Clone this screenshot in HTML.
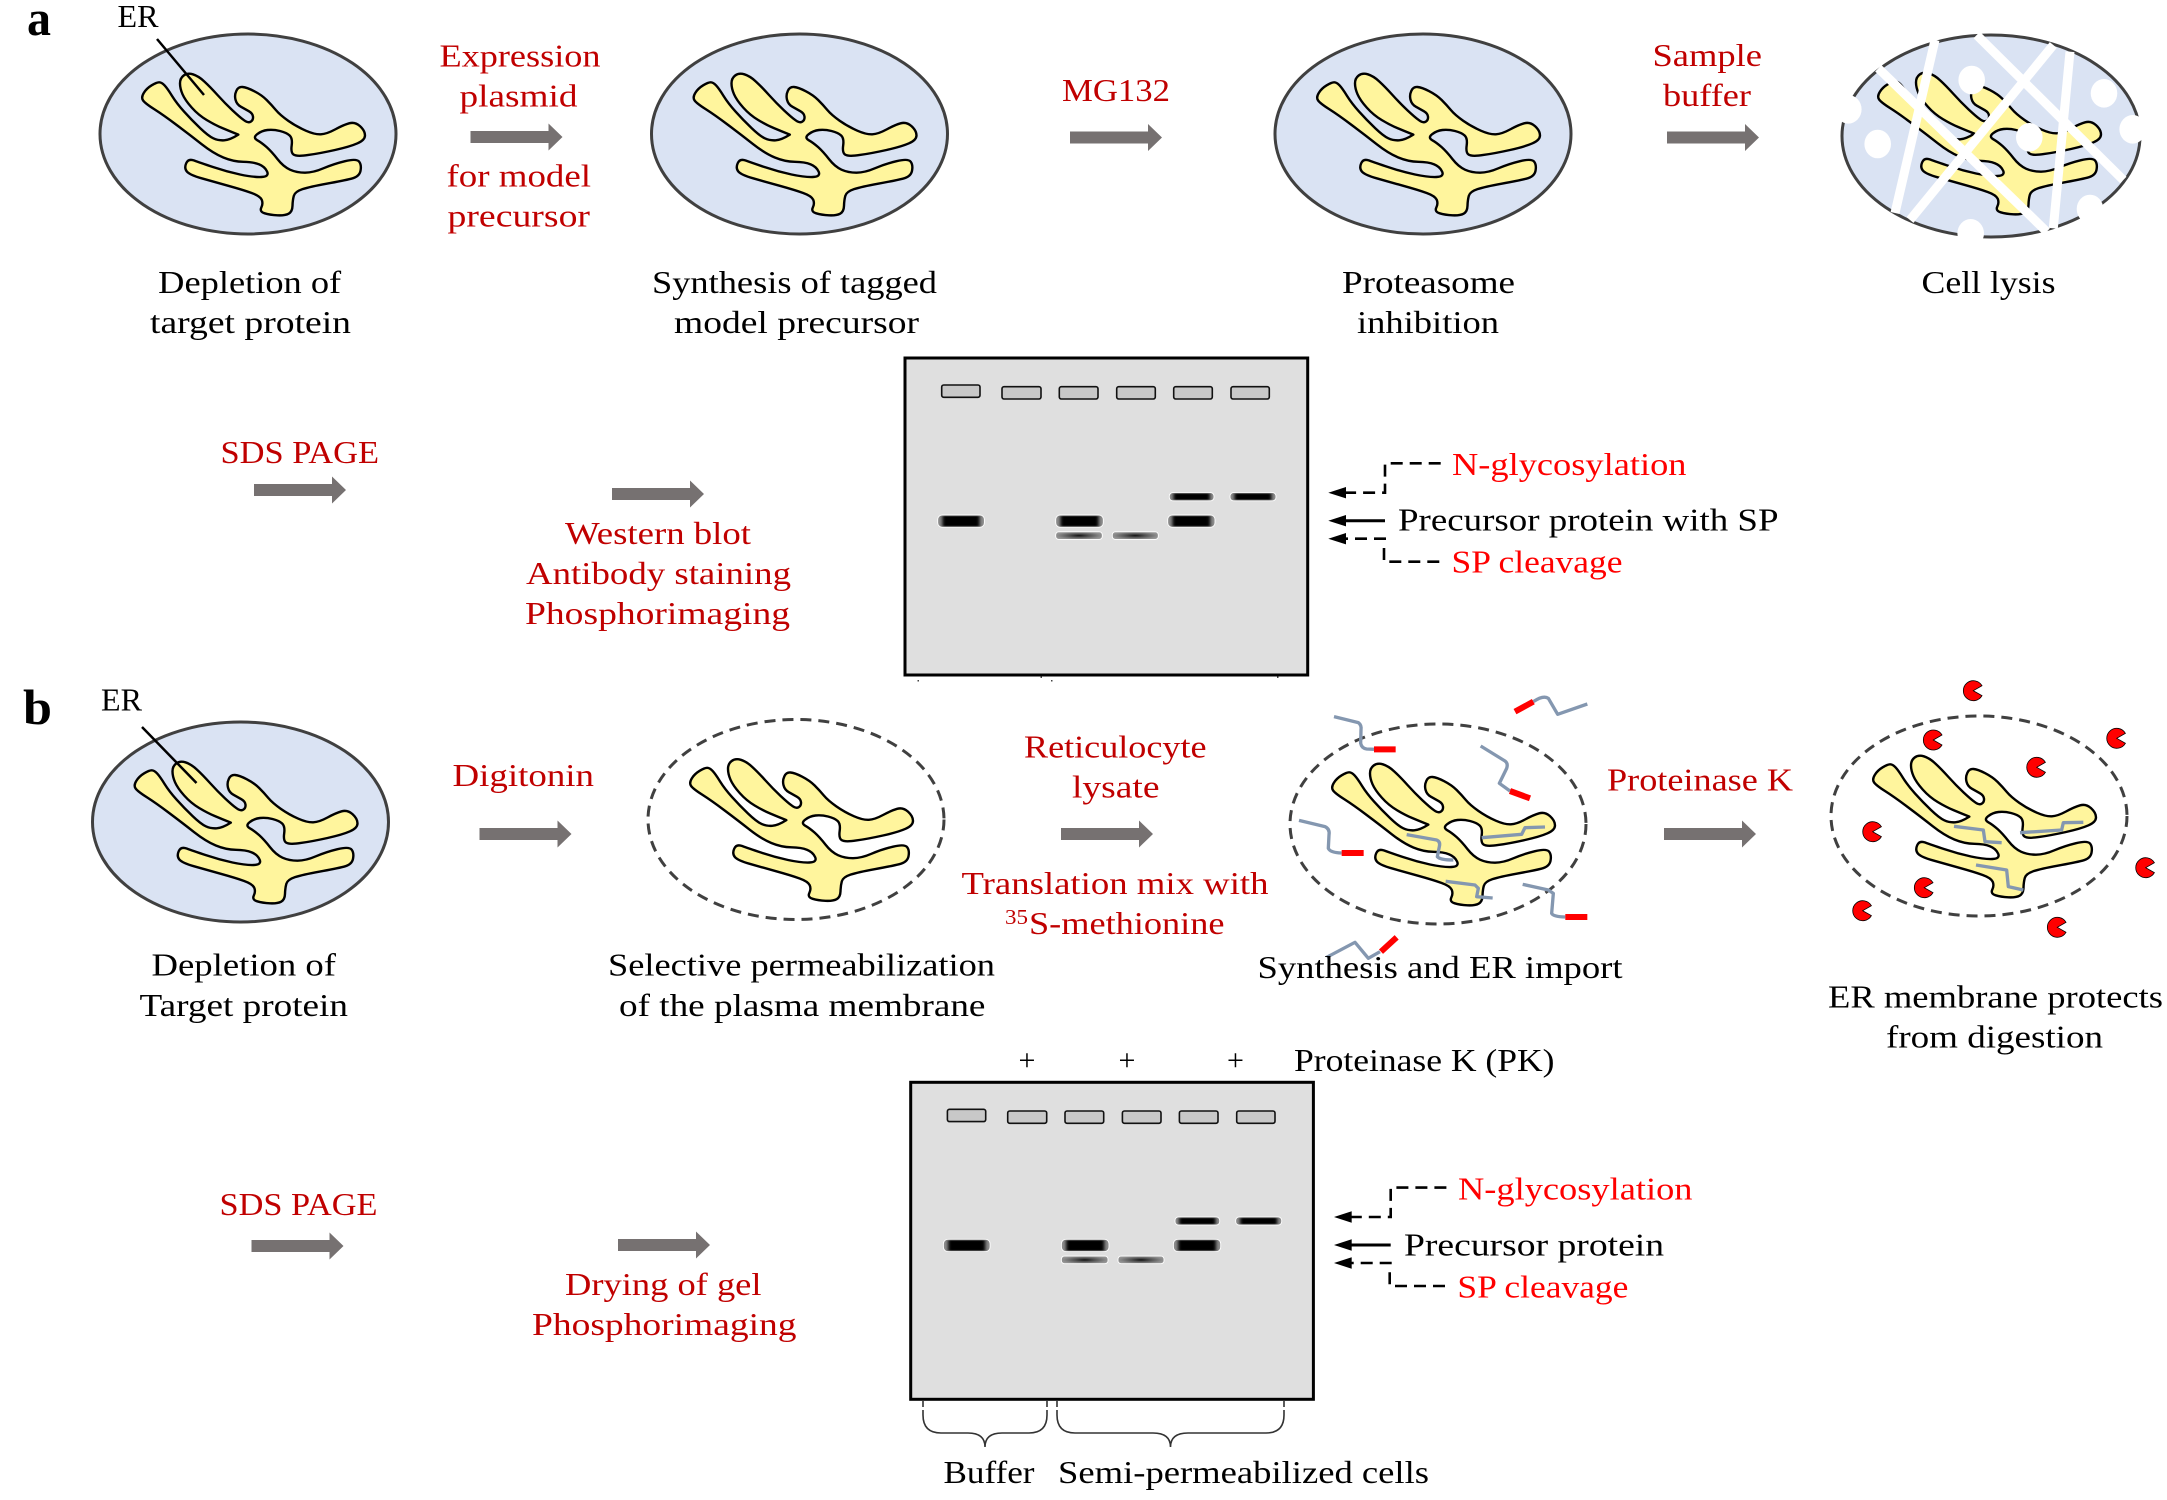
<!DOCTYPE html>
<html>
<head>
<meta charset="utf-8">
<style>
html,body{margin:0;padding:0;background:#fff}
svg{display:block}
text{font-family:"Liberation Serif",serif;font-size:32px;fill:#000}
.r{fill:#c00000}
.b{fill:#ff0000}
.h{font-weight:bold;font-size:50px}
</style>
</head>
<body>
<svg width="2167" height="1500" viewBox="0 0 2167 1500" xmlns="http://www.w3.org/2000/svg">
<defs>
<g id="er" transform="translate(130 60) scale(.33333)">
<path vector-effect="non-scaling-stroke" fill="#fff59d" stroke="#000" stroke-width="2.400" stroke-linejoin="round" d="M87.500 67Q95 67 103.500 76Q112 85 126 107.500Q140 130 162.500 155Q185 180 210 204Q235 228 250 235Q265 242 282.500 241Q300 240 325 224Q300 214 277.500 204.500Q255 195 230 180Q205 165 185 142.500Q165 120 157.500 102.500Q150 85 150 70Q150 55 161 46.500Q172 38 188.500 43Q205 48 222.500 64Q240 80 262.500 105Q285 130 307.500 151Q330 172 342.500 181Q355 190 362.500 185Q370 180 369 170Q368 160 356.500 153.500Q345 147 332.500 140Q320 133 316.500 119Q313 105 319 92.500Q325 80 337.500 81Q350 82 372.500 93.500Q395 105 410 120Q425 135 437.500 150Q450 165 475 182.500Q500 200 527.500 212Q555 224 572.500 223Q590 222 615 208.500Q640 195 657.500 190Q675 185 690 198.500Q705 212 705 226Q705 240 682.500 250Q660 260 615 270Q570 280 535 285Q500 290 491 284Q482 278 485 256.500Q488 235 479 226.500Q470 218 450 213Q430 208 412.500 210Q395 212 381.500 222.500Q368 233 381.500 240.500Q395 248 410 261.500Q425 275 442.500 297.500Q460 320 480 329Q500 338 525 338Q550 338 580 325Q610 312 645 303.500Q680 295 687.500 305Q695 315 691.500 332.500Q688 350 664 356Q640 362 590 371Q540 380 517.500 387.500Q495 395 491.500 407.500Q488 420 487.500 437.500Q487 455 476 461Q465 467 442.500 466Q420 465 404 460Q388 455 394 442.500Q400 430 395 419Q390 408 365 399Q340 390 295 377.500Q250 365 215 355Q180 345 171 335Q162 325 168.500 310Q175 295 192.500 301.500Q210 308 250 321.500Q290 335 330 343.500Q370 352 394 351Q418 350 411.500 335Q405 320 387.500 313Q370 306 340 305.500Q310 305 280 292.500Q250 280 215 252.500Q180 225 140 195Q100 165 72.500 147.500Q45 130 39 121Q33 112 41.500 98.500Q50 85 65 76Q80 67 87.500 67Z"/>
</g>
<path id="arr" fill="#767171" d="M0-6H78V-13.500L92 0L78 13.500V6H0Z"/>
<path id="pac" fill="#ff0000" stroke="#000" stroke-width="0.800" d="M0 0L8.700-5A10 10 0 1 0 8.700 5Z"/>
<filter id="bl" x="-20%" y="-60%" width="140%" height="220%"><feGaussianBlur stdDeviation="1.500 0.600"/></filter>
<radialGradient id="gr" cx=".5" cy=".5" r=".7">
<stop offset="0" stop-color="#111"/><stop offset=".3" stop-color="#505050"/><stop offset=".65" stop-color="#8a8a8a"/><stop offset="1" stop-color="#a8a8a8"/>
</radialGradient>
<g id="gel">
<rect x="905" y="358" width="402.700" height="317" fill="#dfdfdf" stroke="#000" stroke-width="3"/>
<g fill="#c8c8c8" stroke="#111" stroke-width="1.600">
<rect x="941.700" y="385" width="38.300" height="12.300" rx="2"/>
<rect x="1002" y="386.700" width="39" height="12.300" rx="2"/>
<rect x="1059.300" y="386.700" width="38.700" height="12.300" rx="2"/>
<rect x="1116.700" y="386.700" width="38.600" height="12.300" rx="2"/>
<rect x="1173.700" y="386.700" width="38.600" height="12.300" rx="2"/>
<rect x="1231" y="386.700" width="38.300" height="12.300" rx="2"/>
</g>
<g fill="#8c8c8c" stroke="#fff" stroke-width="0.900">
<rect x="937.700" y="515" width="46.700" height="12.300" rx="4.500"/>
<rect x="1055.700" y="515" width="47.600" height="12.300" rx="4.500"/>
<rect x="1167.700" y="515" width="47.300" height="12.300" rx="4.500"/>
<rect x="1169.300" y="492.600" width="44.700" height="8.200" rx="3.500"/>
<rect x="1230" y="492.600" width="46" height="8.200" rx="3.500"/>
</g>
<g fill="#000" filter="url(#bl)">
<rect x="942.500" y="516" width="37" height="10.300"/>
<rect x="1060.500" y="516" width="38" height="10.300"/>
<rect x="1172.500" y="516" width="37.700" height="10.300"/>
<rect x="1173.500" y="493.600" width="36.300" height="6.200"/>
<rect x="1234.500" y="493.600" width="37" height="6.200"/>
</g>
<g fill="url(#gr)" stroke="#fff" stroke-width="0.900">
<rect x="1055.700" y="531.800" width="46.600" height="7.600" rx="3"/>
<rect x="1112.300" y="531.800" width="46" height="7.600" rx="3"/>
</g>
</g>
<g id="cell">
<ellipse cx="248" cy="134" rx="148" ry="100" fill="#dae3f3" stroke="#404040" stroke-width="3"/>
<use href="#er"/>
</g>
<g id="dcell">
<ellipse cx="248" cy="134" rx="148" ry="100" fill="none" stroke="#404040" stroke-width="3" stroke-dasharray="11 7"/>
<use href="#er"/>
</g>
</defs>

<!-- Panel a cells -->
<use href="#cell"/>
<line x1="157" y1="39" x2="204" y2="95" stroke="#000" stroke-width="2.500"/>
<use href="#cell" x="551.500"/>
<use href="#cell" x="1175"/>
<ellipse cx="1991" cy="136" rx="149" ry="101" fill="#dae3f3" stroke="#404040" stroke-width="3"/>
<use href="#er" x="1736" y="-1"/>
<g stroke="#fff" stroke-width="9" fill="none">
<line x1="1935" y1="40" x2="1895" y2="213"/>
<line x1="1878.300" y1="68.300" x2="2046.700" y2="231.700"/>
<line x1="1976.700" y1="35" x2="2123.300" y2="180"/>
<line x1="2053.300" y1="45" x2="1910" y2="220"/>
<line x1="2070" y1="51.700" x2="2053.300" y2="228.300"/>
</g>
<g fill="#fff">
<ellipse cx="1971.700" cy="80" rx="13.300" ry="14.300"/>
<ellipse cx="2104" cy="93.300" rx="13.300" ry="14.300"/>
<ellipse cx="1877.700" cy="144" rx="13.300" ry="14.300"/>
<ellipse cx="2029.300" cy="137.300" rx="13.300" ry="14.300"/>
<ellipse cx="1848.300" cy="109.300" rx="13.300" ry="14.300"/>
<ellipse cx="2132.700" cy="129.300" rx="13.300" ry="14.300"/>
<ellipse cx="1970.700" cy="233.300" rx="13.300" ry="14.300"/>
<ellipse cx="2090" cy="209" rx="13.300" ry="14.300"/>
</g>

<!-- Panel b cells -->
<g transform="translate(-7.500 688)">
<use href="#cell"/>
<line x1="149.500" y1="39" x2="204" y2="95" stroke="#000" stroke-width="2.500"/>
</g>
<use href="#dcell" x="548" y="685.500"/>
<use href="#dcell" x="1190" y="690"/>
<use href="#dcell" x="1731" y="682"/>

<!-- peptides b3 -->
<g transform="translate(1260 680) scale(.33333)" fill="none" stroke-linejoin="round">
<g stroke="#8497b0" stroke-width="10">
<path d="M222 110L295 128Q305 135 303 150L302 190Q305 205 320 207L342 208"/>
<path d="M820 65Q850 45 865 55L893 103L982 72"/>
<path d="M662 198L735 243Q745 250 740 265L718 310L750 333"/>
<path d="M117 421L195 440Q210 447 207 465L205 505Q210 518 245 519"/>
<path d="M440 464L530 480Q542 485 538 500L532 530Q540 540 580 540"/>
<path d="M665 473L785 463L795 443L855 441"/>
<path d="M557 604L645 615L655 625L650 650L698 654"/>
<path d="M788 613L865 630L880 640L875 700Q880 710 916 711"/>
<path d="M200 832L285 787L325 835L360 815"/>
</g>
<g stroke="#ff0000" stroke-width="18">
<path d="M342 208H407"/>
<path d="M765 95L820 65"/>
<path d="M750 333L810 355"/>
<path d="M245 519H311"/>
<path d="M916 711H982"/>
<path d="M363 815L410 772"/>
</g>
</g>
<!-- peptides b4 -->
<g transform="translate(1800 660) scale(.33333)" fill="none" stroke="#8497b0" stroke-width="10" stroke-linejoin="round">
<path d="M462 499L550 510L555 545L605 548"/>
<path d="M660 518L785 510L790 488L850 487"/>
<path d="M528 615L620 630L625 680L670 690"/>
</g>
<use href="#pac" x="1973.300" y="690.700"/>
<use href="#pac" x="1933.300" y="740"/>
<use href="#pac" x="2116.700" y="738.300"/>
<use href="#pac" x="2036.700" y="767.300"/>
<use href="#pac" x="1872.700" y="831.700"/>
<use href="#pac" x="2145.700" y="867.700"/>
<use href="#pac" x="1924.300" y="887.700"/>
<use href="#pac" x="1862.700" y="910.700"/>
<use href="#pac" x="2057.300" y="927.300"/>

<!-- block arrows -->
<use href="#arr" x="470.500" y="137"/>
<use href="#arr" x="1070" y="137.500"/>
<use href="#arr" x="1667" y="137.500"/>
<use href="#arr" x="254" y="490"/>
<use href="#arr" x="612" y="494"/>
<use href="#arr" x="479.500" y="834"/>
<use href="#arr" x="1061" y="834"/>
<use href="#arr" x="1664" y="834"/>
<use href="#arr" x="251.500" y="1246"/>
<use href="#arr" x="618" y="1245"/>

<!-- gels -->
<use href="#gel"/>
<use href="#gel" x="5.700" y="724.300"/>
<g fill="#444">
<rect x="917.500" y="680" width="1.500" height="1.500"/>
<rect x="1040.500" y="676.500" width="1.500" height="1.500"/>
<rect x="1051" y="680" width="1.500" height="1.500"/>
<rect x="1277" y="676.500" width="1.500" height="1.500"/>
</g>

<!-- gel side arrows a -->
<g id="side">
<g fill="none" stroke="#000" stroke-width="2.600">
<path d="M1440.700 463.300H1385V492.700H1345" stroke-dasharray="12 7"/>
<path d="M1385 520.700H1345" stroke-width="3"/>
<path d="M1386 538.700H1345" stroke-dasharray="12 7"/>
<path d="M1384 548V561.700H1440.700" stroke-dasharray="12 7"/>
</g>
<path d="M1328.300 492.700L1346 487V498.400Z"/>
<path d="M1328.300 520.700L1346 515V526.400Z"/>
<path d="M1328.300 538.700L1346 533V544.400Z"/>
</g>
<use href="#side" x="5.700" y="724.300"/>

<!-- braces -->
<g fill="none" stroke="#333" stroke-width="1.600">
<path d="M923 1401V1407M923 1410V1415Q923 1433 941 1433H968Q985 1433 985 1447Q985 1433 1002 1433H1029Q1047 1433 1047 1415V1410M1047 1407V1401"/>
<path d="M1057 1401V1407M1057 1410V1415Q1057 1433 1075 1433H1153Q1170.500 1433 1170.500 1447Q1170.500 1433 1188 1433H1266Q1284 1433 1284 1415V1410M1284 1407V1401"/>
</g>

<!-- text a -->
<text class="h" x="27" y="35" textLength="24" lengthAdjust="spacingAndGlyphs">a</text>
<text x="117.500" y="27" textLength="41" lengthAdjust="spacingAndGlyphs">ER</text>
<text class="r" x="439.500" y="66.700" textLength="161" lengthAdjust="spacingAndGlyphs">Expression</text>
<text class="r" x="459.500" y="106.700" textLength="118" lengthAdjust="spacingAndGlyphs">plasmid</text>
<text class="r" x="446.500" y="186.700" textLength="144.500" lengthAdjust="spacingAndGlyphs">for model</text>
<text class="r" x="447.500" y="226.700" textLength="142.500" lengthAdjust="spacingAndGlyphs">precursor</text>
<text x="158.200" y="293" textLength="183" lengthAdjust="spacingAndGlyphs">Depletion of</text>
<text x="150" y="333" textLength="201" lengthAdjust="spacingAndGlyphs">target protein</text>
<text x="652" y="293" textLength="285" lengthAdjust="spacingAndGlyphs">Synthesis of tagged</text>
<text x="674" y="333" textLength="245" lengthAdjust="spacingAndGlyphs">model precursor</text>
<text x="1342" y="293" textLength="173" lengthAdjust="spacingAndGlyphs">Proteasome</text>
<text x="1357" y="333" textLength="142" lengthAdjust="spacingAndGlyphs">inhibition</text>
<text x="1921.500" y="293" textLength="134" lengthAdjust="spacingAndGlyphs">Cell lysis</text>
<text class="r" x="1062" y="101" textLength="108" lengthAdjust="spacingAndGlyphs">MG132</text>
<text class="r" x="1652.500" y="66" textLength="109.500" lengthAdjust="spacingAndGlyphs">Sample</text>
<text class="r" x="1663" y="106" textLength="88" lengthAdjust="spacingAndGlyphs">buffer</text>
<text class="r" x="220.500" y="463" textLength="158.500" lengthAdjust="spacingAndGlyphs">SDS PAGE</text>
<text class="r" x="565" y="544" textLength="186" lengthAdjust="spacingAndGlyphs">Western blot</text>
<text class="r" x="526" y="584" textLength="265" lengthAdjust="spacingAndGlyphs">Antibody staining</text>
<text class="r" x="525" y="624" textLength="265" lengthAdjust="spacingAndGlyphs">Phosphorimaging</text>
<text class="b" x="1452" y="475" textLength="234.500" lengthAdjust="spacingAndGlyphs">N-glycosylation</text>
<text x="1398" y="530.700" textLength="380.500" lengthAdjust="spacingAndGlyphs">Precursor protein with SP</text>
<text class="b" x="1451.500" y="572.700" textLength="171" lengthAdjust="spacingAndGlyphs">SP cleavage</text>

<!-- text b -->
<text class="h" x="23" y="724" textLength="29" lengthAdjust="spacingAndGlyphs">b</text>
<text x="101" y="710.700" textLength="41" lengthAdjust="spacingAndGlyphs">ER</text>
<text x="151.500" y="975.700" textLength="184.500" lengthAdjust="spacingAndGlyphs">Depletion of</text>
<text x="139.500" y="1016" textLength="208.500" lengthAdjust="spacingAndGlyphs">Target protein</text>
<text class="r" x="452.500" y="786" textLength="141.500" lengthAdjust="spacingAndGlyphs">Digitonin</text>
<text class="r" x="1024" y="757.500" textLength="182.500" lengthAdjust="spacingAndGlyphs">Reticulocyte</text>
<text class="r" x="1072" y="797.500" textLength="87.500" lengthAdjust="spacingAndGlyphs">lysate</text>
<text class="r" x="961.500" y="894" textLength="307" lengthAdjust="spacingAndGlyphs">Translation mix with</text>
<text class="r" x="1005" y="924" style="font-size:21px" textLength="23" lengthAdjust="spacingAndGlyphs">35</text>
<text class="r" x="1029" y="934" textLength="195.500" lengthAdjust="spacingAndGlyphs">S-methionine</text>
<text x="608" y="975.700" textLength="387" lengthAdjust="spacingAndGlyphs">Selective permeabilization</text>
<text x="619" y="1016" textLength="366.400" lengthAdjust="spacingAndGlyphs">of the plasma membrane</text>
<text x="1257.500" y="978" textLength="365" lengthAdjust="spacingAndGlyphs">Synthesis and ER import</text>
<text class="r" x="1607" y="790.500" textLength="186" lengthAdjust="spacingAndGlyphs">Proteinase K</text>
<text x="1828" y="1007.500" textLength="335" lengthAdjust="spacingAndGlyphs">ER membrane protects</text>
<text x="1886" y="1047.500" textLength="217" lengthAdjust="spacingAndGlyphs">from digestion</text>
<text x="1027" y="1070" text-anchor="middle" style="font-size:30px">+</text>
<text x="1127" y="1070" text-anchor="middle" style="font-size:30px">+</text>
<text x="1235.500" y="1070" text-anchor="middle" style="font-size:30px">+</text>
<text x="1294" y="1071" textLength="260.500" lengthAdjust="spacingAndGlyphs">Proteinase K (PK)</text>
<text class="r" x="219.500" y="1215" textLength="158" lengthAdjust="spacingAndGlyphs">SDS PAGE</text>
<text class="r" x="565" y="1295" textLength="196.500" lengthAdjust="spacingAndGlyphs">Drying of gel</text>
<text class="r" x="532" y="1335" textLength="264.500" lengthAdjust="spacingAndGlyphs">Phosphorimaging</text>
<text class="b" x="1458" y="1199.300" textLength="234.500" lengthAdjust="spacingAndGlyphs">N-glycosylation</text>
<text x="1404" y="1255.500" textLength="260" lengthAdjust="spacingAndGlyphs">Precursor protein</text>
<text class="b" x="1457.400" y="1297.500" textLength="171" lengthAdjust="spacingAndGlyphs">SP cleavage</text>
<text x="943.500" y="1483" textLength="91" lengthAdjust="spacingAndGlyphs">Buffer</text>
<text x="1058" y="1483" textLength="371" lengthAdjust="spacingAndGlyphs">Semi-permeabilized cells</text>
</svg>
</body>
</html>
